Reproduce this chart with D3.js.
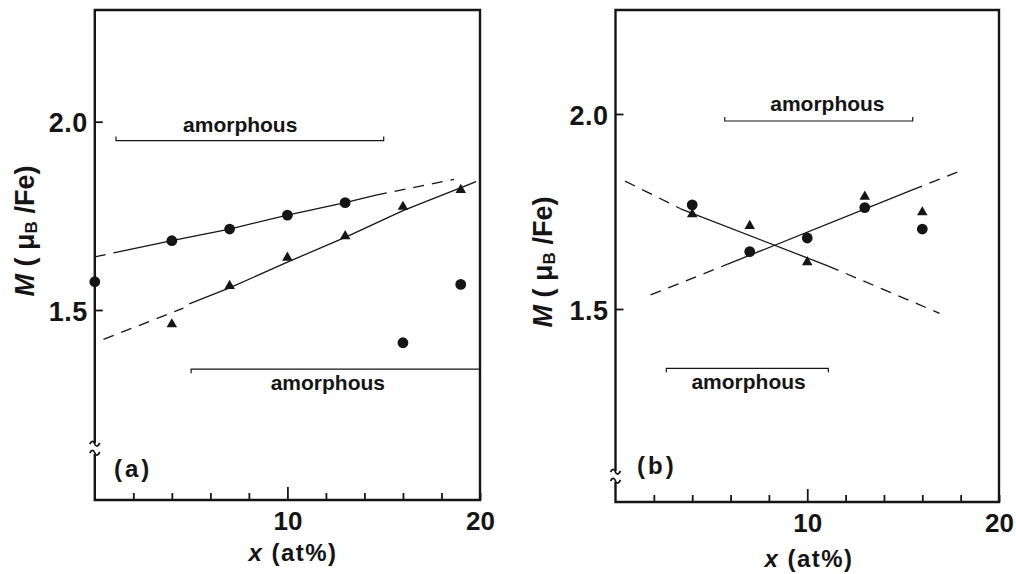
<!DOCTYPE html>
<html>
<head>
<meta charset="utf-8">
<script src="https://cdn.jsdelivr.net/npm/d3@7"></script>
<style>
  html, body { margin: 0; padding: 0; background: #fff; }
  svg { display: block; font-family: "Liberation Sans", Arial, sans-serif; }
</style>
</head>
<body>
<svg id="chart" width="1016" height="574"></svg>
<script>
// shared axis values
const xTicks = [2, 4, 6, 8, 10, 12, 14, 16, 18, 20];
const xTickLabels = [10, 20];
const yTickLabels = [1.5, 2.0];

// panel (a)
const xCirclesA = [0, 4, 7, 10, 13, 16, 19];
const circlesA = [1.575, 1.684, 1.715, 1.752, 1.785, 1.413, 1.568];
const xTrianglesA = [4, 7, 10, 13, 16, 19];
const trianglesA = [1.462, 1.564, 1.639, 1.696, 1.774, 1.819];
// fit lines, [x, M] pairs
const upperSolidA = [[1.1, 1.653], [4, 1.684], [7, 1.715], [10, 1.752], [13, 1.785], [14.6, 1.805]];
const upperDashedA = [[[0, 1.641], [1.1, 1.653]], [[14.6, 1.805], [18.65, 1.847]]];
const lowerSolidA = [[4.9, 1.516], [7, 1.559], [10, 1.627], [13, 1.693], [16, 1.764], [19.8, 1.841]];
const lowerDashedA = [[[0.45, 1.422], [4.6, 1.505]]];
// amorphous ranges: [from, to, level, text x, text M, tick direction]
const amorphousA = [[1.1, 15, 1.95, 7.55, 1.972, -1], [5, 20, 1.343, 12.1, 1.288, 1]];

// panel (b)
const xPointsB = [4, 7, 10, 13, 16];
const circlesB = [1.767, 1.647, 1.682, 1.760, 1.705];
const trianglesB = [1.743, 1.713, 1.620, 1.788, 1.748];
const fallSolidB = [[3.4, 1.757], [11.1, 1.610]];
const fallDashedB = [[[0.5, 1.828], [3.4, 1.757]], [[11.1, 1.610], [16.9, 1.489]]];
const riseSolidB = [[5.85, 1.615], [15.45, 1.805]];
const riseDashedB = [[[1.83, 1.536], [5.85, 1.615]], [[15.45, 1.805], [18.2, 1.858]]];
const amorphousB = [[5.7, 15.5, 1.982, 11.05, 2.008, -1], [2.65, 11.1, 1.348, 6.94, 1.294, 1]];

const ink = '#151515';
const svg = d3.select('#chart');

const panels = [
  {
    name: '(a)', left: 94.8, right: 480, top: 10, bottom: 500, y15: 310, y20: 121.7, breakY: 449,
    label: [114, 477], title: [25, 231], xTitle: [293, 561],
    xc: xCirclesA, circles: circlesA, xt: xTrianglesA, triangles: trianglesA,
    solid: [upperSolidA, lowerSolidA], dashed: upperDashedA.concat(lowerDashedA), amorphous: amorphousA
  },
  {
    name: '(b)', left: 615.5, right: 999, top: 10, bottom: 502, y15: 309, y20: 114, breakY: 477,
    label: [637, 474], title: [543, 262], xTitle: [809, 567],
    xc: xPointsB, circles: circlesB, xt: xPointsB, triangles: trianglesB,
    solid: [fallSolidB, riseSolidB], dashed: fallDashedB.concat(riseDashedB), amorphous: amorphousB
  }
];

panels.forEach(p => drawPanel(p));

function drawPanel(p) {
  const x = d3.scaleLinear().domain([0, 20]).range([p.left, p.right]);
  const y = d3.scaleLinear().domain([1.5, 2.0]).range([p.y15, p.y20]);
  const g = svg.append('g');

  // frame with axis break on the left side
  const frame = g.append('g').attr('fill', 'none').attr('stroke', ink).attr('stroke-width', 2.4);
  frame.append('path')
    .attr('d', `M${p.left},${p.breakY - 6} V${p.top} H${p.right} V${p.bottom} H${p.left} V${p.breakY + 5}`);
  frame.append('path').attr('stroke-width', 1.8)
    .attr('d', `M${p.left - 5},${p.breakY - 5} c2,-4 4,-3 5,0 s3,3 5,-1`);
  frame.append('path').attr('stroke-width', 1.8)
    .attr('d', `M${p.left - 5},${p.breakY + 4} c2,-4 4,-3 5,0 s3,3 5,-1`);

  // x axis: inward ticks every 2, labels at 10 and 20
  const xAxis = g.append('g')
    .attr('transform', `translate(0,${p.bottom})`)
    .call(d3.axisBottom(x).tickValues(xTicks).tickSize(-7).tickPadding(12)
      .tickFormat(d => xTickLabels.includes(d) ? d : ''));
  xAxis.select('.domain').remove();
  xAxis.selectAll('.tick line').attr('stroke', ink).attr('stroke-width', 1.8)
    .attr('y2', d => d === 10 ? -13 : -7);
  xAxis.selectAll('.tick text')
    .attr('fill', ink).attr('font-size', 26).attr('font-weight', 'bold')
    .attr('font-family', '"Liberation Sans", Arial, sans-serif');

  // y axis: inward ticks at 1.5 and 2.0
  const yAxis = g.append('g')
    .attr('transform', `translate(${p.left},0)`)
    .call(d3.axisLeft(y).tickValues(yTickLabels).tickSize(-8).tickPadding(7)
      .tickFormat(d3.format('.1f')));
  yAxis.select('.domain').remove();
  yAxis.selectAll('.tick line').attr('stroke', ink).attr('stroke-width', 1.8);
  yAxis.selectAll('.tick text')
    .attr('fill', ink).attr('font-size', 27).attr('font-weight', 'bold')
    .attr('dy', '0.38em').attr('letter-spacing', 0.5)
    .attr('font-family', '"Liberation Sans", Arial, sans-serif');

  // fit lines
  const line = d3.line().x(d => x(d[0])).y(d => y(d[1]));
  g.selectAll('.solid').data(p.solid).enter().append('path')
    .attr('d', line).attr('fill', 'none').attr('stroke', ink).attr('stroke-width', 1.3);
  g.selectAll('.dashed').data(p.dashed).enter().append('path')
    .attr('d', line).attr('fill', 'none').attr('stroke', ink).attr('stroke-width', 1.3)
    .attr('stroke-dasharray', '11,8');

  // data points
  g.selectAll('.circ').data(p.circles).enter().append('circle')
    .attr('cx', (d, i) => x(p.xc[i])).attr('cy', d => y(d))
    .attr('r', 5.4).attr('fill', ink);
  g.selectAll('.tri').data(p.triangles).enter().append('path')
    .attr('d', d3.symbol().type(d3.symbolTriangle).size(48))
    .attr('transform', (d, i) => `translate(${x(p.xt[i])},${y(d)})`)
    .attr('fill', ink);

  // amorphous ranges
  p.amorphous.forEach(a => {
    const yy = y(a[2]), t = 4 * a[5];
    g.append('path')
      .attr('d', `M${x(a[0])},${yy + t} V${yy} H${x(a[1])} V${yy + t}`)
      .attr('fill', 'none').attr('stroke', ink).attr('stroke-width', 1.2);
    g.append('text')
      .attr('x', x(a[3])).attr('y', y(a[4]))
      .attr('text-anchor', 'middle').attr('font-size', 21).attr('font-weight', 'bold')
      .attr('fill', ink).text('amorphous');
  });

  // panel label
  g.append('text')
    .attr('x', p.label[0]).attr('y', p.label[1])
    .attr('font-size', 24).attr('font-weight', 'bold').attr('fill', ink).attr('letter-spacing', 3)
    .text(p.name);

  // y title
  const yt = g.append('text')
    .attr('transform', `translate(${p.title[0]},${p.title[1]}) rotate(-90)`)
    .attr('text-anchor', 'middle').attr('dominant-baseline', 'central')
    .attr('font-size', 27).attr('font-weight', 'bold').attr('fill', ink);
  yt.append('tspan').attr('font-style', 'italic').text('M');
  yt.append('tspan').text(' ( \u03bc');
  yt.append('tspan').attr('font-size', 17).attr('dy', 6).text('B');
  yt.append('tspan').attr('dy', -6).text(' /Fe)');

  // x title
  const xt = g.append('text')
    .attr('x', p.xTitle[0]).attr('y', p.xTitle[1])
    .attr('text-anchor', 'middle').attr('font-size', 24).attr('font-weight', 'bold')
    .attr('letter-spacing', 1.5).attr('fill', ink);
  xt.append('tspan').attr('font-style', 'italic').text('x');
  xt.append('tspan').text(' (at%)');
}
</script>
</body>
</html>
